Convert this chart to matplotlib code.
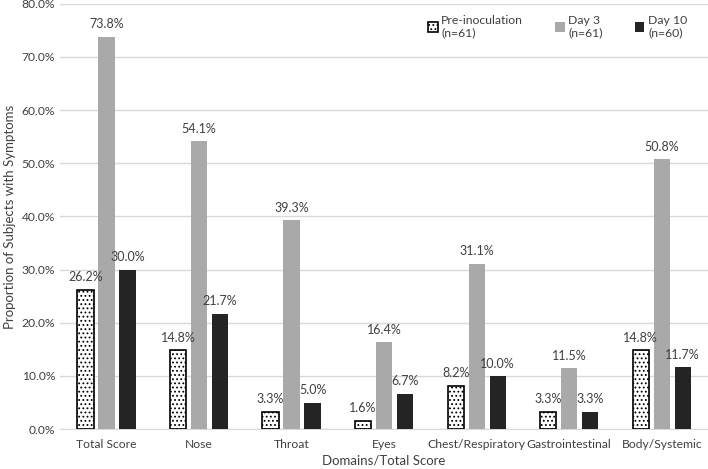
import numpy as np
import matplotlib.pyplot as plt

plt.rcParams['font.family'] = ['Lato', 'DejaVu Sans']
plt.rcParams['hatch.linewidth'] = 0.8

# data
categories = ["Total Score", "Nose", "Throat", "Eyes", "Chest/Respiratory",
              "Gastrointestinal", "Body/Systemic"]
pre_inoc = [26.2, 14.8, 3.3, 1.6, 8.2, 3.3, 14.8]
day3 = [73.8, 54.1, 39.3, 16.4, 31.1, 11.5, 50.8]
day10 = [30.0, 21.7, 5.0, 6.7, 10.0, 3.3, 11.7]
series_labels = ["Pre-inoculation\n(n=61)", "Day 3\n(n=61)", "Day 10\n(n=60)"]

fig = plt.figure(figsize=(7.08, 4.69), dpi=100)
ax = fig.add_axes([0.085, 0.085, 0.915, 0.907])

x = np.arange(len(categories))
w = 0.175
step = 0.227
text_col = "#404040"

b1 = ax.bar(x - step, pre_inoc, w, color="white", edgecolor="black",
            hatch="....", linewidth=1.2, label=series_labels[0], zorder=3)
b2 = ax.bar(x, day3, w, color="#a9a9a9", label=series_labels[1], zorder=3)
b3 = ax.bar(x + step, day10, w, color="#242424", label=series_labels[2], zorder=3)

for bars, vals in [(b1, pre_inoc), (b2, day3), (b3, day10)]:
    for rect, v in zip(bars, vals):
        ax.text(rect.get_x() + rect.get_width() / 2, v + 1.2, f"{v:.1f}%",
                ha="center", va="bottom", fontsize=9, color=text_col)

ax.set_ylim(0, 80)
ax.set_xlim(-0.5, len(categories) - 0.5)
ax.set_yticks(np.arange(0, 81, 10))
ax.set_yticklabels([f"{t:.1f}%" for t in np.arange(0, 81, 10)])
ax.set_xticks(x)
ax.set_xticklabels(categories)
ax.tick_params(axis="both", length=0, labelsize=8.7, colors=text_col)
ax.tick_params(axis="x", pad=7)
ax.yaxis.grid(True, color="#d9d9d9", linewidth=1)
ax.set_axisbelow(True)
for s in ["top", "right", "left"]:
    ax.spines[s].set_visible(False)
ax.spines["bottom"].set_color("#d9d9d9")

ax.set_ylabel("Proportion of Subjects with Symptoms", fontsize=9.5, color=text_col)
ax.set_xlabel("Domains/Total Score", fontsize=9.5, color=text_col, labelpad=3)

leg = ax.legend(loc="upper right", ncol=3, frameon=False, fontsize=8.8,
                handlelength=0.8, handleheight=0.8, columnspacing=2.6,
                handletextpad=0.3, bbox_to_anchor=(0.985, 1.0))
for t in leg.get_texts():
    t.set_color(text_col)

fig.savefig("out.png", dpi=100)
